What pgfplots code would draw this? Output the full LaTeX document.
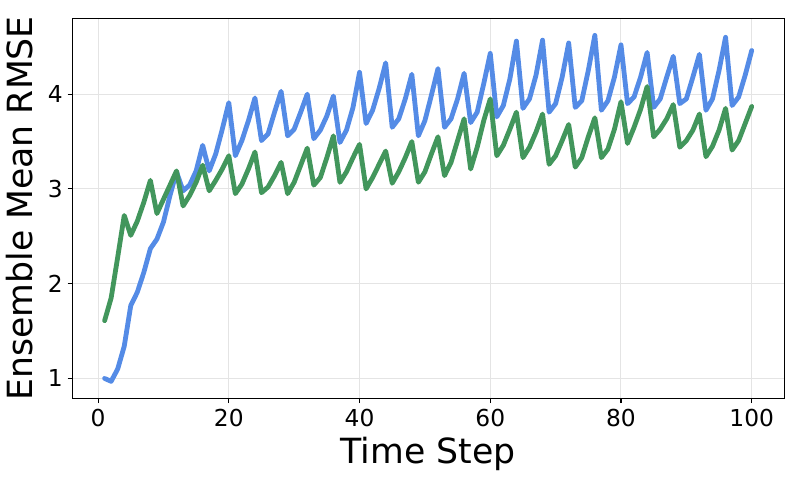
\documentclass[border=0pt]{standalone}
\usepackage{fontspec}
\setmainfont{DejaVu Sans}
\usepackage{pgfplots}
\usepackage{pgfplotstable}
\pgfplotsset{compat=1.18}

\definecolor{lineblue}{RGB}{84,139,230}
\definecolor{linegreen}{RGB}{66,150,92}
\definecolor{gridgray}{RGB}{228,228,228}

% step, blue series, green series
\pgfplotstableread{
t blue green
1 1.00 1.61
2 0.97 1.85
3 1.10 2.28
4 1.34 2.72
5 1.77 2.51
6 1.91 2.66
7 2.12 2.86
8 2.37 3.09
9 2.47 2.74
10 2.65 2.89
11 2.93 3.04
12 3.18 3.19
13 2.98 2.82
14 3.04 2.93
15 3.19 3.07
16 3.46 3.25
17 3.19 2.98
18 3.37 3.09
19 3.63 3.21
20 3.91 3.35
21 3.35 2.95
22 3.51 3.05
23 3.72 3.21
24 3.96 3.39
25 3.51 2.96
26 3.58 3.02
27 3.81 3.14
28 4.03 3.28
29 3.56 2.95
30 3.63 3.07
31 3.81 3.25
32 4.00 3.43
33 3.53 3.04
34 3.62 3.12
35 3.77 3.33
36 3.98 3.56
37 3.49 3.07
38 3.62 3.18
39 3.86 3.33
40 4.23 3.47
41 3.69 3.00
42 3.83 3.12
43 4.06 3.26
44 4.33 3.40
45 3.65 3.06
46 3.74 3.18
47 3.95 3.33
48 4.21 3.50
49 3.56 3.07
50 3.72 3.18
51 3.99 3.37
52 4.27 3.55
53 3.65 3.14
54 3.74 3.28
55 3.95 3.51
56 4.22 3.74
57 3.70 3.21
58 3.81 3.44
59 4.11 3.72
60 4.43 3.95
61 3.76 3.35
62 3.88 3.46
63 4.16 3.63
64 4.56 3.81
65 3.85 3.33
66 3.95 3.44
67 4.20 3.60
68 4.57 3.79
69 3.81 3.26
70 3.90 3.35
71 4.18 3.51
72 4.54 3.68
73 3.86 3.23
74 3.93 3.33
75 4.25 3.55
76 4.62 3.75
77 3.83 3.33
78 3.93 3.42
79 4.18 3.63
80 4.52 3.92
81 3.90 3.48
82 3.97 3.65
83 4.18 3.84
84 4.44 4.08
85 3.86 3.55
86 3.95 3.63
87 4.18 3.74
88 4.40 3.89
89 3.90 3.44
90 3.95 3.51
91 4.18 3.62
92 4.42 3.79
93 3.83 3.34
94 3.95 3.45
95 4.25 3.62
96 4.60 3.85
97 3.88 3.41
98 3.97 3.51
99 4.20 3.69
100 4.46 3.87
}\rmse

\begin{document}
\begin{tikzpicture}
\useasboundingbox (-54.2pt,-60.5pt) rectangle (540.5pt,298.75pt);
\begin{axis}[
    scale only axis,
    width=533.8pt,
    height=285pt,
    xmin=-3.95, xmax=104.95,
    ymin=0.79, ymax=4.80,
    xtick={0,20,40,60,80,100},
    ytick={1,2,3,4},
    tick align=outside,
    xtick pos=left, ytick pos=left,
    major tick length=3.5pt,
    tick style={black, line width=0.8pt},
    axis line style={black, line width=0.8pt},
    grid=major,
    major grid style={gridgray, line width=0.75pt},
    /pgf/number format/assume math mode=true,
    ticklabel style={font=\fontsize{17.5}{20}\selectfont},
    xticklabel style={inner sep=0pt, yshift=-4.7pt},
    yticklabel style={inner sep=0pt, xshift=-3.5pt},
    xlabel={Time Step},
    ylabel={Ensemble Mean RMSE},
    label style={font=\fontsize{26}{30}\selectfont},
    xlabel style={at={(rel axis cs:0.5,0)}, anchor=base, yshift=-48.5pt},
    ylabel style={at={(rel axis cs:0,0.5)}, anchor=base, rotate=0, yshift=29.7pt},
]
\addplot[lineblue, line width=3.6pt, line join=round, line cap=round] table[x=t, y=blue] {\rmse};
\addplot[linegreen, line width=3.6pt, line join=round, line cap=round] table[x=t, y=green] {\rmse};
\end{axis}
\end{tikzpicture}
\end{document}
